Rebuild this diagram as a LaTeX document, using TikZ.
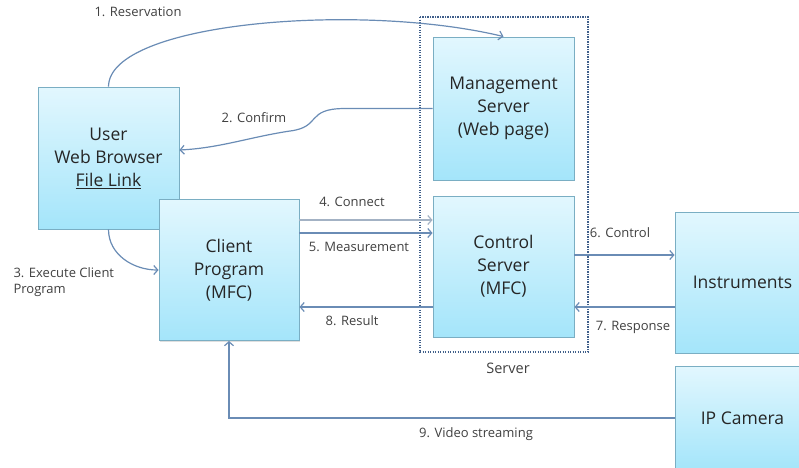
\documentclass[tikz,border=0pt]{standalone}
\usepackage{fontspec}
\setmainfont{Open Sans}
\usetikzlibrary{arrows.meta,shadows}
\tikzset{>={Straight Barb[length=4pt,width=9pt]}}
\definecolor{boxtop}{HTML}{E2F7FE}
\definecolor{boxbot}{HTML}{A4E5FA}
\definecolor{boxline}{HTML}{7AAEC3}
\definecolor{flowcol}{HTML}{6A8CB5}
\definecolor{paleflow}{HTML}{A3B2C4}
\definecolor{framecol}{HTML}{3F5F8A}
\tikzstyle{blk}=[draw=boxline,line width=0.9pt,top color=boxtop,bottom color=boxbot,
  drop shadow={opacity=0.25,shadow xshift=1.2pt,shadow yshift=-1.2pt},
  align=center,inner sep=0pt,text=black!85,font=\fontsize{17.5}{23}\selectfont]
\tikzstyle{flow}=[->,color=flowcol,line width=1.2pt]
\tikzstyle{lbl}=[text=black!75,font=\fontsize{13}{16}\selectfont]

\begin{document}
\begin{tikzpicture}[x=1pt,y=-1pt]
  \useasboundingbox (0,0) rectangle (799,467);

  % boxes
  \node[blk,minimum width=141pt,minimum height=142pt] (user) at (108.5,158) {User\\Web Browser\\\underline{File Link}};
  \node[blk,minimum width=141pt,minimum height=143pt] (mgmt) at (503.5,108.5) {Management\\Server\\(Web page)};
  \node[blk,minimum width=141pt,minimum height=141pt] (ctrl) at (503.5,266.5) {Control\\Server\\(MFC)};
  \node[blk,minimum width=140pt,minimum height=141pt] (client) at (229,270) {Client\\Program\\(MFC)};
  \node[blk,minimum width=135pt,minimum height=141pt] (instr) at (742.5,282.5) {Instruments};
  \node[blk,minimum width=135pt,minimum height=104pt] (cam) at (742.5,418) {IP Camera};

  % server frame
  \draw[framecol,line width=1.6pt,dash pattern=on 1.4pt off 1.1pt] (420,17) rectangle (588,352);
  \node[lbl,font=\fontsize{14.5}{16}\selectfont] (srv) at (508,368) {Server};

  % connectors
  \draw[flow] (user.north) .. controls (109,22) and (360,2) .. (mgmt.north);
  \draw[flow] (mgmt.west) -- (345,108.5) .. controls (305,108.5) and (322,127) .. (290,131)
      .. controls (250,137) and (220,148) .. ([yshift=8pt]user.east);
  \draw[flow] (user.south) to[out=-90,in=180] (client.west);
  \draw[flow,paleflow] (client.east |- 0,220) -- (ctrl.west |- 0,220);
  \draw[flow] (client.east |- 0,233) -- (ctrl.west |- 0,233);
  \draw[flow] (ctrl.west |- 0,307) -- (client.east |- 0,307);
  \draw[flow] (ctrl.east |- 0,255) -- (instr.west |- 0,255);
  \draw[flow] (instr.west |- 0,307) -- (ctrl.east |- 0,307);
  \draw[flow] (cam.west) -- (client.south |- cam.west) -- (client.south);

  % labels
  \node[lbl] (l1) at (138,12) {1. Reservation};
  \node[lbl] (l2) at (254,118) {2. Confirm};
  \node[lbl,align=left,anchor=west] (l3) at (10,282) {3. Execute Client\\Program};
  \node[lbl] (l4) at (352,202) {4. Connect};
  \node[lbl] (l5) at (359,247) {5. Measurement};
  \node[lbl] (l8) at (352,321) {8. Result};
  \node[lbl] (l6) at (620,233) {6. Control};
  \node[lbl] (l7) at (633,327) {7. Response};
  \node[lbl] (l9) at (476,434) {9. Video streaming};
\end{tikzpicture}
\end{document}
